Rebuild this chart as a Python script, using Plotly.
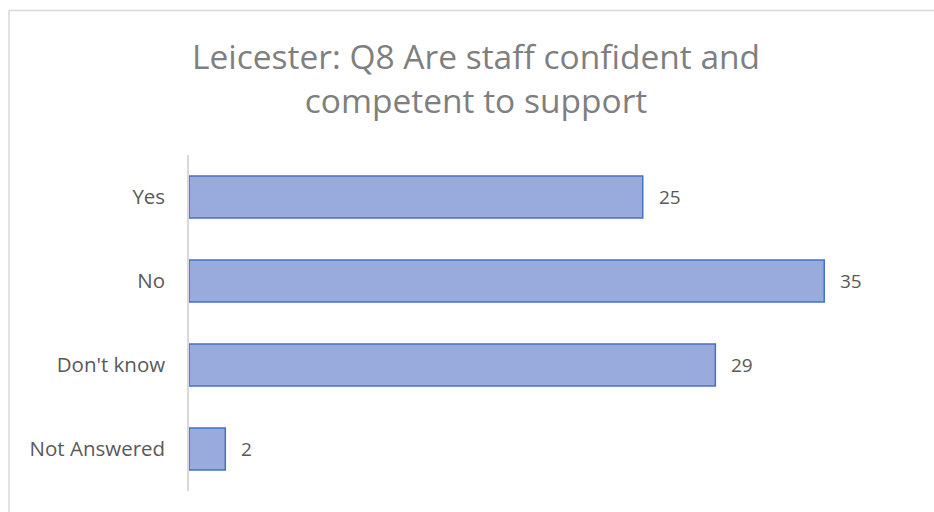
import plotly.graph_objects as go

categories = ["Yes", "No", "Don't know", "Not Answered"]
values = [25, 35, 29, 2]
title_text = "Leicester: Q8 Are staff confident and<br>competent to support"

W, H = 934, 512
L, R, T, B = 189, 19, 155, 21
pw, ph = W - L - R, H - T - B

fig = go.Figure()
fig.add_trace(go.Bar(
    y=categories, x=values, orientation="h",
    marker=dict(color="#99abdc", line=dict(color="#4472c4", width=1.5)),
    hoverinfo="skip",
))

for c, v in zip(categories, values):
    fig.add_annotation(x=v, y=c, xref="x", yref="y", text=str(v), showarrow=False,
                       xanchor="left", xshift=14,
                       font=dict(family="Open Sans", size=19, color="#595959"))

fig.add_shape(type="rect", xref="paper", yref="paper",
              x0=(9 - L) / pw, x1=(950 - L) / pw,
              y0=(H - B - 530) / ph, y1=(H - B - 10.5) / ph,
              line=dict(color="#d9d9d9", width=1.5), layer="below")

fig.update_layout(
    width=W, height=H,
    margin=dict(l=L, r=R, t=T, b=B),
    paper_bgcolor="white", plot_bgcolor="white",
    bargap=0.5,
    showlegend=False,
    title=dict(text=title_text, x=476 / W, xref="container", xanchor="center",
               y=1 - 69 / H, yref="container", yanchor="middle",
               font=dict(family="Open Sans", size=33.5, color="#7f7f7f")),
    xaxis=dict(range=[0, 40], showgrid=False, showticklabels=False, zeroline=False,
               showline=False, ticks=""),
    yaxis=dict(autorange="reversed", showgrid=False, showline=True, linecolor="#d9d9d9",
               linewidth=1.5, ticks="", ticklabelstandoff=18,
               tickfont=dict(family="Open Sans", size=20.5, color="#595959")),
)

fig.write_html("out.html")
